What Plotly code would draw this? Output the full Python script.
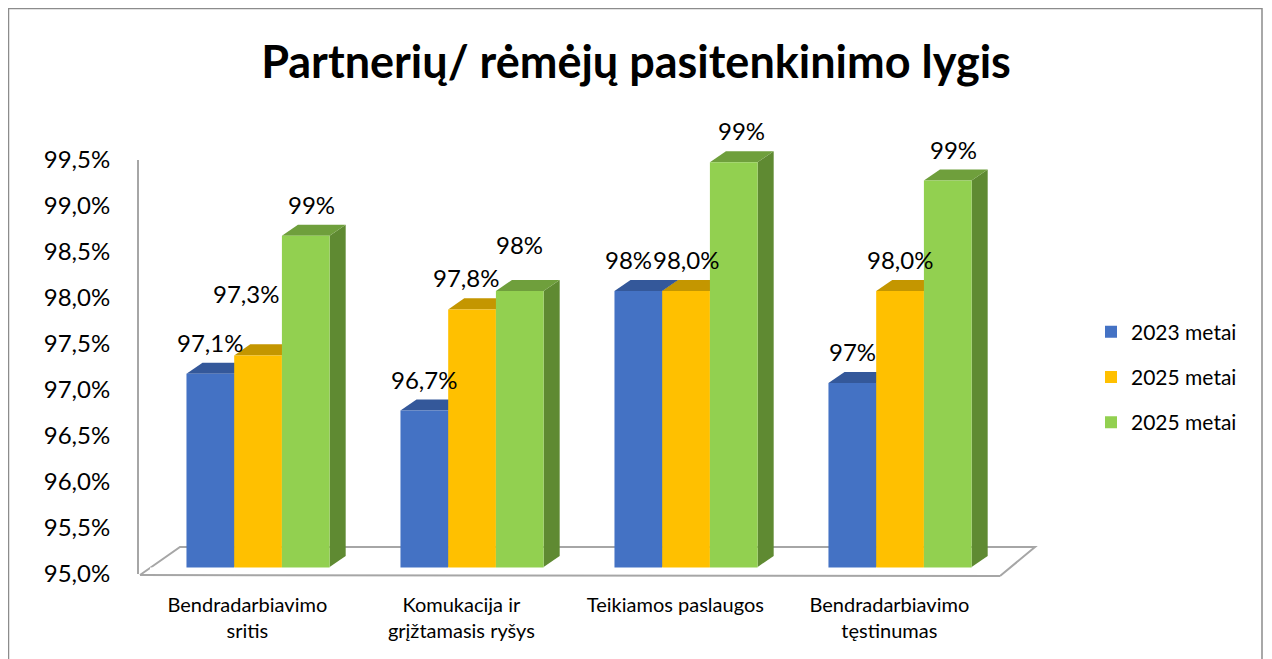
import plotly.graph_objects as go

# ---------------- data ----------------
categories = ["Bendradarbiavimo<br>sritis", "Komukacija ir<br>grįžtamasis ryšys",
              "Teikiamos paslaugos", "Bendradarbiavimo<br>tęstinumas"]
series_names = ["2023 metai", "2025 metai", "2025 metai"]
values_2023 = [97.1, 96.7, 98.0, 97.0]
values_2025a = [97.3, 97.8, 98.0, 98.0]
values_2025b = [98.6, 98.0, 99.4, 99.2]
labels_2023 = ["97,1%", "96,7%", "98%", "97%"]
labels_2025a = ["97,3%", "97,8%", "98,0%", "98,0%"]
labels_2025b = ["99%", "98%", "99%", "99%"]
tick_vals = [95.0, 95.5, 96.0, 96.5, 97.0, 97.5, 98.0, 98.5, 99.0, 99.5]
tick_text = ["95,0%", "95,5%", "96,0%", "96,5%", "97,0%", "97,5%", "98,0%", "98,5%", "99,0%", "99,5%"]
title_text = "Partnerių/ rėmėjų pasitenkinimo lygis"

# ---------------- style ----------------
FONT = "Lato, Calibri, Carlito, sans-serif"
front = ["#4472C4", "#FFC000", "#92D050"]
side = ["#2F528F", "#B38600", "#5F8A32"]
top = ["#34589A", "#C49600", "#6F9F3C"]
W = 0.223             # bar width (category units)
DX, DY = 0.075, 0.12  # pseudo-3D depth
Y0, Y1 = 95.0, 99.935
LIFT = 7 / 92.0       # bars stand on the floor, slightly above the back-wall baseline

all_vals = [values_2023, values_2025a, values_2025b]
all_labels = [labels_2023, labels_2025a, labels_2025b]

extra_yshift = {(1, 0): 30, (2, 1): 15}
extra_xshift = {(1, 0): -12, (2, 0): 6, (2, 2): 8, (2, 3): 6, (1, 1): -6, (0, 2): -10}

OFF = 8
FW, FH = 1272 - OFF, 659 - OFF
L, R, T, B = 138 - OFF, 1040 - OFF, 120 - OFF, 574 - OFF
PW, PH = R - L, B - T
def px(xp): return (xp - OFF - L) / PW
def py(yp): return (B - (yp - OFF)) / PH

fig = go.Figure()
shapes = []
annotations = []

# anchor trace for the tick axis
fig.add_trace(go.Scatter(x=[None], y=[None], xaxis="x", yaxis="y",
                         showlegend=False, hoverinfo="skip"))

for i, (name, vals) in enumerate(zip(series_names, all_vals)):
    xs = [c + (i - 1) * W for c in range(len(categories))]
    fig.add_trace(go.Bar(
        x=xs, y=vals, width=W, name=name, yaxis="y2",
        marker=dict(color=front[i], line=dict(width=0)),
        hoverinfo="skip", legendgroup=f"g{i}",
    ))
    for j, (x, v) in enumerate(zip(xs, vals)):
        xl, xr = x - W / 2, x + W / 2
        shapes.append(dict(
            type="path", xref="x", yref="y2", layer="below",
            path=f"M {xr},{Y0} L {xr+DX},{Y0+DY} L {xr+DX},{v+DY} L {xr},{v} Z",
            fillcolor=side[i], line=dict(width=0)))
        shapes.append(dict(
            type="path", xref="x", yref="y2", layer="below",
            path=f"M {xl},{v} L {xr},{v} L {xr+DX},{v+DY} L {xl+DX},{v+DY} Z",
            fillcolor=top[i], line=dict(width=0)))
        annotations.append(dict(
            x=x, y=v, xref="x", yref="y2", text=all_labels[i][j],
            showarrow=False, yanchor="bottom",
            yshift=15 + extra_yshift.get((i, j), 0),
            xshift=extra_xshift.get((i, j), 0),
            font=dict(family=FONT, size=24, color="#000000")))

GRAY = "#A6A6A6"
# floor: back + side edges behind the bars
shapes.append(dict(
    type="path", xref="paper", yref="paper", layer="below",
    path=f"M {px(140)},{py(575)} L {px(180)},{py(547)} L {px(1035)},{py(547)} L {px(1000)},{py(576)}",
    line=dict(color=GRAY, width=2), fillcolor="rgba(0,0,0,0)"))
# floor front strip (in front of the bar feet)
shapes.append(dict(
    type="rect", xref="paper", yref="paper", layer="above",
    x0=px(150), x1=px(1000), y0=py(575), y1=py(567.5),
    fillcolor="white", line=dict(width=0)))
shapes.append(dict(
    type="line", xref="paper", yref="paper", layer="above",
    x0=px(140), x1=px(1000), y0=py(575), y1=py(576),
    line=dict(color=GRAY, width=2)))
# vertical axis line
shapes.append(dict(
    type="line", xref="paper", yref="y", x0=0, x1=0, y0=Y0, y1=tick_vals[-1],
    line=dict(color=GRAY, width=2), layer="below"))
# chart border
shapes.append(dict(
    type="rect", xref="paper", yref="paper",
    x0=px(8.5), x1=px(1262), y0=py(700), y1=py(8.5),
    line=dict(color="#8C8C8C", width=1.5), fillcolor="rgba(0,0,0,0)", layer="below"))

fig.update_layout(
    width=FW, height=FH,
    margin=dict(l=L, r=FW - R, t=T, b=FH - B, pad=0),
    paper_bgcolor="white", plot_bgcolor="white",
    title=dict(text=f"<b>{title_text}</b>", x=(636 - OFF) / FW, xanchor="center",
               y=1 - (62 - OFF) / FH, yanchor="middle",
               font=dict(family=FONT, size=45, color="#000000")),
    barmode="overlay",
    showlegend=True,
    legend=dict(x=px(1091), y=py(377), xanchor="left", yanchor="middle",
                font=dict(family=FONT, size=21, color="#000000"),
                traceorder="grouped", tracegroupgap=15,
                itemwidth=30, bgcolor="rgba(0,0,0,0)"),
    xaxis=dict(range=[-0.561, 3.654], tickvals=[c - 0.05 for c in range(len(categories))],
               ticktext=categories, showgrid=False, zeroline=False, showline=False,
               ticks="outside", ticklen=13, tickcolor="rgba(0,0,0,0)",
               tickfont=dict(family=FONT, size=20, color="#000000")),
    yaxis=dict(range=[Y0, Y1], tickvals=tick_vals, ticktext=tick_text,
               showgrid=False, zeroline=False, showline=False,
               ticks="outside", ticklen=22, tickcolor="rgba(0,0,0,0)",
               tickfont=dict(family=FONT, size=24, color="#000000")),
    yaxis2=dict(range=[Y0 - LIFT, Y1 - LIFT], overlaying="y", visible=False,
                showgrid=False, zeroline=False),
    shapes=shapes, annotations=annotations,
)

fig.write_html("out.html")
